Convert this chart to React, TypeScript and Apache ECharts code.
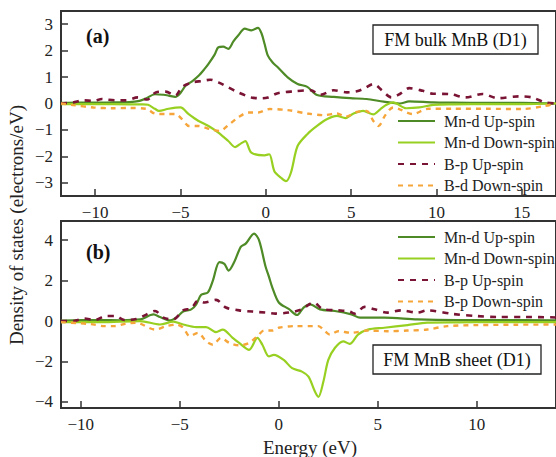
import React, { useEffect, useRef } from "react";
import * as echarts from "echarts";

// Panel (a): FM bulk MnB (D1)
const aMnUp: [number, number][] = [
  [-12, 0.02], [-11, 0.03], [-10, 0.03], [-9, 0.04], [-8, 0.05], [-7.4, 0.1], [-7, 0.2], [-6.5, 0.35], [-6, 0.33],
  [-5.7, 0.3], [-5.3, 0.25], [-5, 0.4], [-4.7, 0.67], [-4.3, 0.85], [-3.94, 1.05], [-3.6, 1.3], [-3.36, 1.5],
  [-3.0, 1.85], [-2.78, 2.13], [-2.5, 2.15], [-2.2, 2.07], [-1.9, 2.35], [-1.62, 2.57], [-1.23, 2.83], [-0.85, 2.77],
  [-0.46, 2.86], [-0.25, 2.65], [-0.08, 2.27], [0.12, 1.81], [0.4, 1.55], [0.7, 1.37], [1.28, 0.99], [1.86, 0.74],
  [2.43, 0.63], [3.0, 0.32], [3.98, 0.25], [4.95, 0.2], [5.9, 0.17], [6.9, 0.07], [7.85, 0.0], [8.4, 0.08],
  [9.8, 0.04], [11, 0.03], [13, 0.02], [15, 0.02], [17, 0.0],
];
const aMnDown: [number, number][] = [
  [-12, -0.02], [-10, -0.02], [-8, -0.03], [-7.2, -0.03], [-6.9, -0.05], [-6.5, -0.2], [-6.26, -0.28], [-5.7, -0.2],
  [-5, -0.15], [-4.52, -0.4], [-3.94, -0.66], [-3.36, -0.85], [-2.78, -1.1], [-2.2, -1.42], [-1.8, -1.65],
  [-1.43, -1.5], [-1.2, -1.42], [-0.85, -1.86], [-0.08, -1.96], [0.2, -1.92], [0.5, -2.56], [0.89, -2.81],
  [1.18, -2.94], [1.47, -2.62], [1.86, -1.61], [2.43, -1.16], [3, -0.85], [3.6, -0.59], [4.17, -0.47],
  [4.66, -0.55], [5.14, -0.38], [5.7, -0.28], [6.3, -0.41], [6.7, -0.22], [7.07, -0.05], [7.46, 0.04],
  [8.23, -0.18], [9, -0.15], [9.8, -0.05], [11, -0.03], [13, -0.02], [15, -0.02], [17, 0],
];
const aBpUp: [number, number][] = [
  [-12, 0.0], [-11.3, 0.04], [-10.7, 0.12], [-10.1, 0.1], [-9.6, 0.17], [-9.35, 0.15], [-8.8, 0.12], [-8.2, 0.12],
  [-7.5, 0.23], [-6.95, 0.15], [-6.45, 0.42], [-5.87, 0.45], [-5.3, 0.3], [-4.9, 0.63], [-4.3, 0.8], [-3.75, 0.85],
  [-3.26, 0.9], [-2.78, 0.8], [-2.2, 0.61], [-1.62, 0.42], [-0.85, 0.23], [-0.27, 0.2], [0.12, 0.23], [0.7, 0.39],
  [1.66, 0.46], [2.63, 0.5], [3.2, 0.33], [3.98, 0.5], [4.75, 0.42], [5.33, 0.46], [5.8, 0.58], [6.3, 0.74],
  [6.8, 0.5], [7.36, 0.23], [7.85, 0.36], [8.4, 0.58], [9.2, 0.48], [9.8, 0.37], [10.75, 0.36], [11.7, 0.23],
  [12.7, 0.36], [13.6, 0.2], [14.8, 0.27], [15.6, 0.23], [16.35, 0.04], [17, 0],
];
const aBdDown: [number, number][] = [
  [-12, 0], [-11.3, -0.06], [-10.1, -0.15], [-9, -0.18], [-8, -0.17], [-7, -0.2], [-6.5, -0.38], [-5.87, -0.4],
  [-5.3, -0.4], [-4.9, -0.6], [-4.5, -0.85], [-3.94, -0.85], [-3.26, -0.97], [-2.69, -1.04], [-2.2, -0.82],
  [-1.62, -0.53], [-1.04, -0.34], [-0.46, -0.34], [0.21, -0.21], [1.28, -0.25], [2.43, -0.38], [3.4, -0.44],
  [4.17, -0.38], [4.66, -0.5], [5.33, -0.32], [5.9, -0.28], [6.3, -0.66], [6.6, -0.85], [7.0, -0.44],
  [7.46, -0.15], [7.85, -0.22], [8.6, -0.4], [9.5, -0.2], [11, -0.2], [13, -0.2], [15, -0.21], [16.3, -0.1], [17, 0],
];

// Panel (b): FM MnB sheet (D1)
const bMnUp: [number, number][] = [
  [-11, 0.02], [-10, 0.05], [-9, 0.05], [-8, 0.04], [-7, 0.08], [-6.33, 0.33], [-6, 0.2], [-5.5, 0.03],
  [-5.17, 0.18], [-4.83, 0.47], [-4.42, 0.58], [-4.17, 0.83], [-3.92, 1.3], [-3.58, 1.42], [-3.33, 2.0],
  [-3, 2.92], [-2.75, 2.83], [-2.53, 2.5], [-2.25, 2.92], [-1.92, 3.67], [-1.67, 3.83], [-1.25, 4.33],
  [-1, 4.0], [-0.67, 2.7], [-0.5, 2.2], [-0.33, 1.67], [0, 0.92], [0.5, 0.6], [0.92, 0.3], [1.25, 0.67],
  [1.58, 0.83], [2.08, 0.58], [2.83, 0.5], [3.67, 0.33], [4.1, 0.17], [5.33, 0.17], [7, 0.08], [9, 0.05],
  [11, 0.05], [14, 0.03],
];
const bMnDown: [number, number][] = [
  [-11, -0.05], [-9, -0.05], [-7, 0.0], [-6, -0.17], [-5.33, -0.03], [-4.83, -0.17], [-4.17, -0.3],
  [-3.67, -0.3], [-3.17, -0.55], [-2.83, -0.42], [-2.33, -0.83], [-2, -1.08], [-1.5, -1.42], [-1.08, -0.83],
  [-0.83, -1.17], [-0.5, -1.75], [-0.25, -1.67], [0.25, -1.92], [0.67, -2.33], [1.17, -2.5], [1.5, -2.75],
  [1.83, -3.5], [2, -3.75], [2.25, -3.0], [2.5, -1.92], [2.83, -1.33], [3.25, -1.0], [3.58, -1.13], [4, -0.67],
  [4.5, -0.42], [5.33, -0.33], [6.5, -0.2], [7.5, -0.08], [9, -0.06], [11, -0.05], [14, -0.05],
];
const bBpUp: [number, number][] = [
  [-11, 0], [-10.35, 0.0], [-9.83, 0.13], [-9.3, 0.05], [-8.75, 0.25], [-8.25, 0.25], [-7.8, 0.05], [-7.2, 0.1],
  [-6.67, 0.33], [-6.25, 0.5], [-5.83, 0.17], [-5.33, 0.08], [-4.83, 0.53], [-4.42, 0.63], [-4.08, 1.0],
  [-3.75, 0.92], [-3.17, 1.05], [-2.67, 0.67], [-2, 0.53], [-1.33, 0.47], [-0.67, 0.42], [-0.17, 0.37],
  [0.5, 0.42], [1.17, 0.58], [1.75, 0.92], [2.25, 0.58], [3, 0.53], [3.58, 0.47], [3.83, 0.37], [4.33, 0.7],
  [4.83, 0.58], [5.5, 0.42], [6.17, 0.53], [7, 0.42], [7.5, 0.53], [8.8, 0.35], [10, 0.25], [11, 0.2],
  [12.5, 0.2], [14, 0.18],
];
const bBpDown: [number, number][] = [
  [-11, -0.05], [-10.2, -0.1], [-9.5, -0.15], [-8.8, -0.25], [-8.3, -0.25], [-7.7, -0.12], [-7.2, -0.08],
  [-6.25, -0.42], [-5.67, -0.25], [-5.17, -0.17], [-4.83, -0.33], [-4.5, -0.75], [-4.08, -0.58], [-3.67, -1.0],
  [-3.33, -1.17], [-2.92, -0.83], [-2.5, -1.08], [-2, -1.2], [-1.5, -1.08], [-1.08, -0.75], [-0.75, -0.47],
  [-0.33, -0.47], [0, -0.33], [0.83, -0.25], [2, -0.25], [2.33, -0.5], [2.58, -0.67], [3, -0.5], [3.67, -0.58],
  [4.5, -0.47], [5.5, -0.5], [6.5, -0.47], [7.5, -0.42], [8.5, -0.25], [10, -0.2], [12, -0.18], [14, -0.17],
];

const legendA = ["Mn-d Up-spin", "Mn-d Down-spin", "B-p Up-spin", "B-d Down-spin"];
const legendB = ["Mn-d Up-spin", "Mn-d Down-spin", "B-p Up-spin", "B-p Down-spin"];
const xRangeA = [-12, 17];
const yRangeA = [-3.5, 3.5];
const xRangeB = [-11, 14];
const yRangeB = [-4.3, 4.95];

const FONT = "'Liberation Serif', 'Times New Roman', serif";
const C_UP = "#4e8a26";
const C_DOWN = "#98d021";
const C_BUP = "#7a1434";
const C_BDOWN = "#f6a53a";

const fmt = (v: number) => {
  if (Math.abs(v - Math.round(v)) > 1e-6) return "";
  return String(v).replace("-", "\u2212");
};

export default function App() {
  const ref = useRef<HTMLDivElement>(null);
  useEffect(() => {
    if (!ref.current) return;
    const chart = echarts.init(ref.current, undefined, { renderer: "svg" });
    const axisCommon = {
      axisLine: { show: false, onZero: false },
      axisTick: { show: true, inside: true, length: 7, lineStyle: { color: "#333", width: 1.5 } },
      splitLine: { show: false },
      axisLabel: {
        fontFamily: FONT,
        fontSize: 17,
        color: "#222",
        showMinLabel: false,
        showMaxLabel: false,
        margin: 8,
        formatter: fmt,
      },
    };
    const mk = (name: string, data: [number, number][], color: string, idx: number, dashed: boolean, width: number, dash?: number[]) => ({
      type: "line",
      name,
      data,
      xAxisIndex: idx,
      yAxisIndex: idx,
      symbol: "none",
      smooth: 0.3,
      clip: true,
      lineStyle: { color, width, type: dashed ? (dash as any) : "solid" },
      itemStyle: { color },
      z: dashed ? 3 : 2,
    });
    const legendCommon = {
      orient: "vertical",
      itemWidth: 37,
      itemHeight: 14,
      itemGap: 5.5,
      selectedMode: false,
      itemStyle: { opacity: 0 },
      textStyle: { fontFamily: FONT, fontSize: 16, color: "#222", padding: [0, 0, 0, 4] },
    };
    chart.setOption({
      animation: false,
      backgroundColor: "#fff",
      grid: [
        { left: 61, top: 11, width: 500, height: 185, show: true, borderColor: "#333", borderWidth: 2, backgroundColor: "transparent" },
        { left: 61, top: 221, width: 500, height: 187, show: true, borderColor: "#333", borderWidth: 2, backgroundColor: "transparent" },
      ],
      xAxis: [
        { ...axisCommon, type: "value", gridIndex: 0, min: xRangeA[0], max: xRangeA[1] },
        { ...axisCommon, type: "value", gridIndex: 1, min: xRangeB[0], max: xRangeB[1] },
      ],
      yAxis: [
        { ...axisCommon, type: "value", gridIndex: 0, min: yRangeA[0], max: yRangeA[1] },
        { ...axisCommon, type: "value", gridIndex: 1, min: yRangeB[0], max: yRangeB[1] },
      ],
      legend: [
        { ...legendCommon, data: legendA, left: 392, top: 108 },
        { ...legendCommon, data: legendB, left: 392, top: 224 },
      ],
      series: [
        mk(legendA[0], aMnUp, C_UP, 0, false, 2.2),
        mk(legendA[1], aMnDown, C_DOWN, 0, false, 2.2),
        mk(legendA[2], aBpUp, C_BUP, 0, true, 2.6, [6, 6]),
        mk(legendA[3], aBdDown, C_BDOWN, 0, true, 2.4, [5, 5]),
        mk(legendB[0], bMnUp, C_UP, 1, false, 2.2),
        mk(legendB[1], bMnDown, C_DOWN, 1, false, 2.2),
        mk(legendB[2], bBpUp, C_BUP, 1, true, 2.6, [6, 6]),
        mk(legendB[3], bBpDown, C_BDOWN, 1, true, 2.4, [5, 5]),
      ],
      graphic: [
        { type: "text", left: 86, top: 26, style: { text: "(a)", fontFamily: FONT, fontSize: 20, fontWeight: "bold", fill: "#111" } },
        { type: "text", left: 86, top: 242, style: { text: "(b)", fontFamily: FONT, fontSize: 20, fontWeight: "bold", fill: "#111" } },
        { type: "rect", shape: { x: 373, y: 25, width: 165, height: 29 }, style: { fill: "#fff", stroke: "#222", lineWidth: 1.3 }, z: 10 },
        { type: "text", x: 455.5, y: 40, style: { text: "FM bulk MnB (D1)", fontFamily: FONT, fontSize: 18, fill: "#111", align: "center", verticalAlign: "middle" }, z: 11 },
        { type: "rect", shape: { x: 373, y: 345, width: 168, height: 29 }, style: { fill: "#fff", stroke: "#222", lineWidth: 1.3 }, z: 10 },
        { type: "text", x: 457, y: 360, style: { text: "FM MnB sheet (D1)", fontFamily: FONT, fontSize: 18, fill: "#111", align: "center", verticalAlign: "middle" }, z: 11 },
        { type: "text", x: 16, y: 225, rotation: Math.PI / 2, style: { text: "Density of states (electrons/eV)", fontFamily: FONT, fontSize: 19, fill: "#222", align: "center", verticalAlign: "middle" } },
        { type: "text", x: 310, y: 447, style: { text: "Energy (eV)", fontFamily: FONT, fontSize: 19, fill: "#222", align: "center", verticalAlign: "middle" } },
      ],
    });
    return () => chart.dispose();
  }, []);
  return <div ref={ref} style={{ position: "fixed", left: 0, top: 0, width: 556, height: 457 }} />;
}
